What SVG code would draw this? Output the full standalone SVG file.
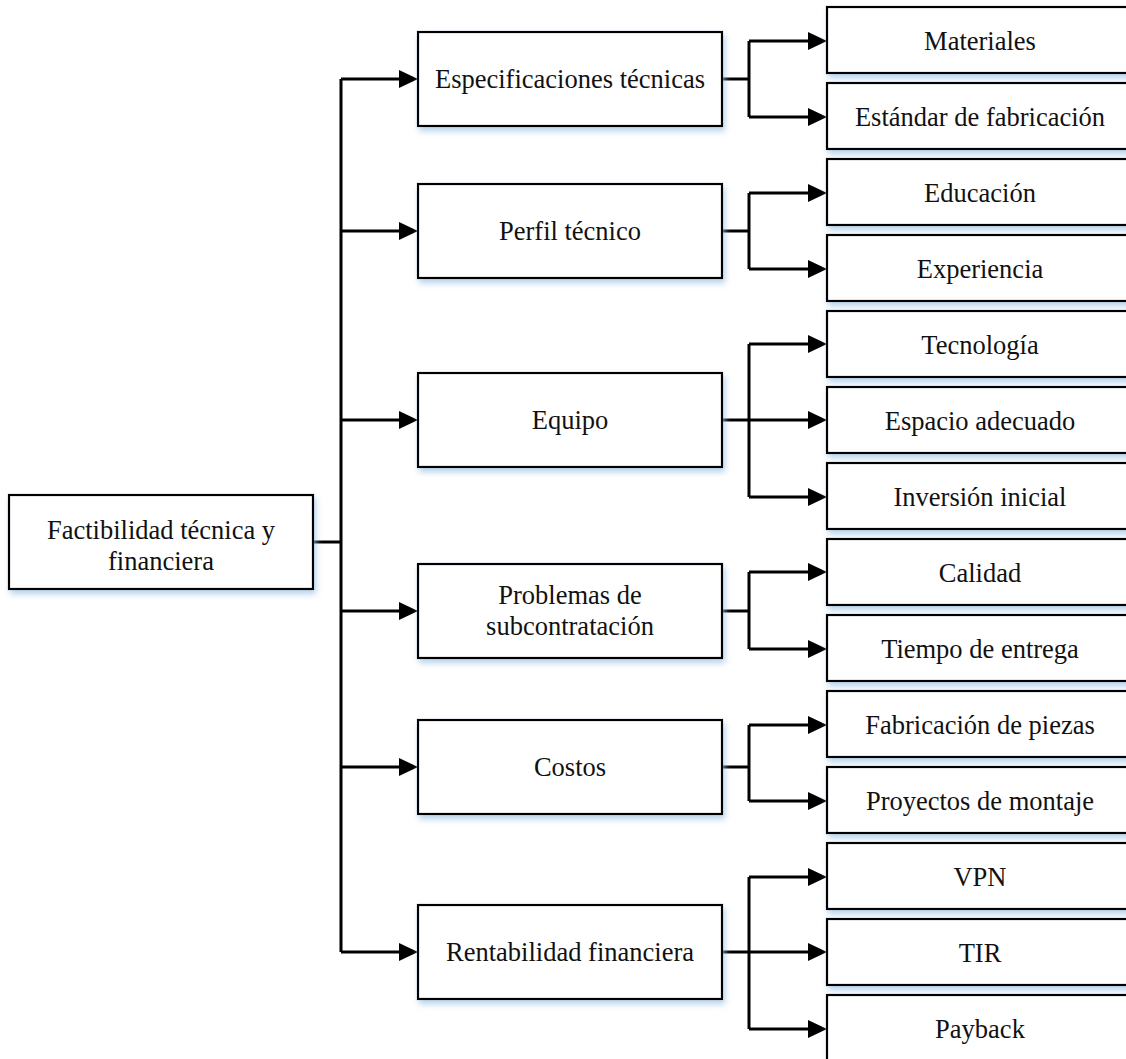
<svg xmlns="http://www.w3.org/2000/svg" width="1126" height="1059" viewBox="0 0 1126 1059">
<style>
.box{fill:#ffffff;stroke:#000000;stroke-width:2.2;filter:url(#sh)}
.lbl{font-family:"Liberation Serif","Times New Roman",serif;font-size:26.5px;fill:#111111;text-anchor:middle}
.ln{fill:none;stroke:#000000;stroke-width:3}
.ar{fill:none;stroke:#000000;stroke-width:3;marker-end:url(#ah)}
</style>
<defs>
<filter id="sh" x="-10%" y="-20%" width="125%" height="150%">
<feDropShadow dx="2" dy="4" stdDeviation="3" flood-color="#9dc3e6" flood-opacity="0.75"/>
</filter>
<marker id="ah" viewBox="0 0 19 18" refX="4" refY="9" markerWidth="19" markerHeight="18" markerUnits="userSpaceOnUse" orient="auto">
<path d="M0,0 L19,9 L0,18 Z" fill="#000000"/>
</marker>
</defs>
<rect width="1126" height="1059" fill="#ffffff"/>

<g id="connectors">
<line class="ln" x1="313" y1="542" x2="341" y2="542"/>
<line class="ln" x1="341" y1="79" x2="341" y2="952"/>
<line class="ar" x1="341" y1="79" x2="403" y2="79"/>
<line class="ar" x1="341" y1="231" x2="403" y2="231"/>
<line class="ar" x1="341" y1="420" x2="403" y2="420"/>
<line class="ar" x1="341" y1="611" x2="403" y2="611"/>
<line class="ar" x1="341" y1="767" x2="403" y2="767"/>
<line class="ar" x1="341" y1="952" x2="403" y2="952"/>

<line class="ln" x1="722" y1="79" x2="749" y2="79"/>
<line class="ln" x1="749" y1="41" x2="749" y2="117"/>
<line class="ar" x1="749" y1="41" x2="812" y2="41"/>
<line class="ar" x1="749" y1="117" x2="812" y2="117"/>

<line class="ln" x1="722" y1="231" x2="749" y2="231"/>
<line class="ln" x1="749" y1="193" x2="749" y2="269"/>
<line class="ar" x1="749" y1="193" x2="812" y2="193"/>
<line class="ar" x1="749" y1="269" x2="812" y2="269"/>

<line class="ln" x1="722" y1="420" x2="749" y2="420"/>
<line class="ln" x1="749" y1="344" x2="749" y2="497"/>
<line class="ar" x1="749" y1="344" x2="812" y2="344"/>
<line class="ar" x1="749" y1="420" x2="812" y2="420"/>
<line class="ar" x1="749" y1="497" x2="812" y2="497"/>

<line class="ln" x1="722" y1="611" x2="749" y2="611"/>
<line class="ln" x1="749" y1="572" x2="749" y2="649"/>
<line class="ar" x1="749" y1="572" x2="812" y2="572"/>
<line class="ar" x1="749" y1="649" x2="812" y2="649"/>

<line class="ln" x1="722" y1="767" x2="749" y2="767"/>
<line class="ln" x1="749" y1="725" x2="749" y2="801"/>
<line class="ar" x1="749" y1="725" x2="812" y2="725"/>
<line class="ar" x1="749" y1="801" x2="812" y2="801"/>

<line class="ln" x1="722" y1="952" x2="749" y2="952"/>
<line class="ln" x1="749" y1="877" x2="749" y2="1029"/>
<line class="ar" x1="749" y1="877" x2="812" y2="877"/>
<line class="ar" x1="749" y1="952" x2="812" y2="952"/>
<line class="ar" x1="749" y1="1029" x2="812" y2="1029"/>
</g>

<g id="root"><rect class="box" x="9" y="495" width="304" height="94"/>
<text class="lbl" x="161" y="539">Factibilidad técnica y</text>
<text class="lbl" x="161" y="570">financiera</text></g>

<g id="especificaciones"><rect class="box" x="418" y="32" width="304" height="94"/><text class="lbl" x="570" y="88">Especificaciones técnicas</text></g>
<g id="perfil"><rect class="box" x="418" y="184" width="304" height="94"/><text class="lbl" x="570" y="240">Perfil técnico</text></g>
<g id="equipo"><rect class="box" x="418" y="373" width="304" height="94"/><text class="lbl" x="570" y="429">Equipo</text></g>
<g id="problemas"><rect class="box" x="418" y="564" width="304" height="94"/>
<text class="lbl" x="570" y="604">Problemas de</text>
<text class="lbl" x="570" y="635">subcontratación</text></g>
<g id="costos"><rect class="box" x="418" y="720" width="304" height="94"/><text class="lbl" x="570" y="776">Costos</text></g>
<g id="rentabilidad"><rect class="box" x="418" y="905" width="304" height="94"/><text class="lbl" x="570" y="961">Rentabilidad financiera</text></g>

<g id="materiales"><rect class="box" x="827" y="7" width="330" height="66"/><text class="lbl" x="980" y="50">Materiales</text></g>
<g id="estandar"><rect class="box" x="827" y="83" width="330" height="66"/><text class="lbl" x="980" y="126">Estándar de fabricación</text></g>
<g id="educacion"><rect class="box" x="827" y="159" width="330" height="66"/><text class="lbl" x="980" y="202">Educación</text></g>
<g id="experiencia"><rect class="box" x="827" y="235" width="330" height="66"/><text class="lbl" x="980" y="278">Experiencia</text></g>
<g id="tecnologia"><rect class="box" x="827" y="311" width="330" height="66"/><text class="lbl" x="980" y="354">Tecnología</text></g>
<g id="espacio"><rect class="box" x="827" y="387" width="330" height="66"/><text class="lbl" x="980" y="430">Espacio adecuado</text></g>
<g id="inversion"><rect class="box" x="827" y="463" width="330" height="66"/><text class="lbl" x="980" y="506">Inversión inicial</text></g>
<g id="calidad"><rect class="box" x="827" y="539" width="330" height="66"/><text class="lbl" x="980" y="582">Calidad</text></g>
<g id="tiempo"><rect class="box" x="827" y="615" width="330" height="66"/><text class="lbl" x="980" y="658">Tiempo de entrega</text></g>
<g id="fabricacion"><rect class="box" x="827" y="691" width="330" height="66"/><text class="lbl" x="980" y="734">Fabricación de piezas</text></g>
<g id="proyectos"><rect class="box" x="827" y="767" width="330" height="66"/><text class="lbl" x="980" y="810">Proyectos de montaje</text></g>
<g id="vpn"><rect class="box" x="827" y="843" width="330" height="66"/><text class="lbl" x="980" y="886">VPN</text></g>
<g id="tir"><rect class="box" x="827" y="919" width="330" height="66"/><text class="lbl" x="980" y="962">TIR</text></g>
<g id="payback"><rect class="box" x="827" y="995" width="330" height="66"/><text class="lbl" x="980" y="1038">Payback</text></g>
</svg>
